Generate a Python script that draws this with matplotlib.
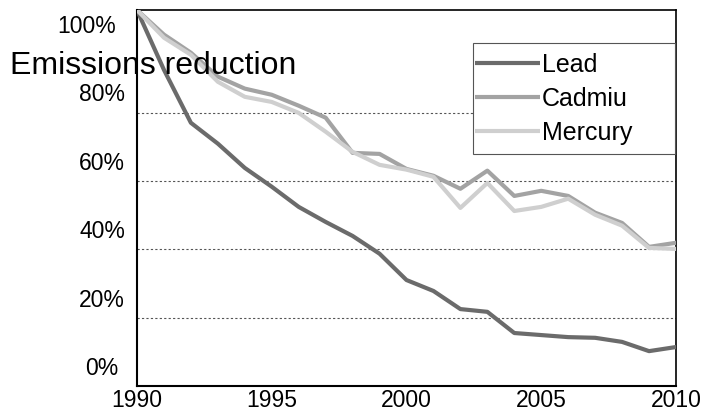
import numpy as np
import matplotlib.pyplot as plt
from matplotlib.patches import Rectangle
from matplotlib.transforms import blended_transform_factory, offset_copy

plt.rcParams['font.family'] = ['Liberation Sans', 'DejaVu Sans']

# Data (axis units, 100% tick = 100)
years = list(range(1990, 2011))
lead = [110, 92.5, 77.0, 70.9, 63.8, 58.3, 52.4, 48.0, 43.9, 38.7, 31.0,
        27.8, 22.5, 21.7, 15.5, 14.9, 14.3, 14.1, 12.9, 10.2, 11.4]
cadmiu = [110, 102.8, 97.5, 90.5, 87.0, 85.2, 82.0, 78.5, 68.2, 67.9, 63.5,
          61.5, 57.7, 63.0, 55.6, 57.1, 55.6, 50.7, 47.7, 40.7, 41.9]
mercury = [110, 101.9, 96.9, 89.0, 84.6, 83.1, 79.9, 74.4, 68.5, 64.7, 63.3,
           61.2, 52.1, 59.4, 51.2, 52.4, 54.8, 50.1, 46.9, 40.4, 40.1]

ytick_vals = [0, 20, 40, 60, 80, 100]
ytick_labels = ['0%', '20%', '40%', '60%', '80%', '100%']
xtick_vals = [1990, 1995, 2000, 2005, 2010]

W, H = 703, 412
fig = plt.figure(figsize=(W / 100, H / 100), dpi=100)
ax = fig.add_axes([137 / W, (H - 386) / H, (676 - 137) / W, (386 - 10) / H])

# gridlines
for v in ytick_vals[1:-1]:
    ax.axhline(v, color='#555555', lw=0.8, ls=(0, (2, 2)), zorder=1)

ax.plot(years, lead, color='#6b6b6b', lw=3, label='Lead', zorder=3)
ax.plot(years, cadmiu, color='#a3a3a3', lw=3, label='Cadmiu', zorder=3)
ax.plot(years, mercury, color='#cfcfcf', lw=3, label='Mercury', zorder=3)

ax.set_xlim(1990, 2010)
ax.set_ylim(0, 110)
ax.set_xticks(xtick_vals)
ax.set_xticklabels([str(x) for x in xtick_vals])
ax.tick_params(axis='x', length=0, pad=2, labelsize=16.5)
ax.set_yticks([])

for side in ['left', 'bottom']:
    ax.spines[side].set_linewidth(1.5)
for side in ['top', 'right']:
    ax.spines[side].set_linewidth(1.2)
for s in ax.spines.values():
    s.set_color('black')

# y labels sit above their tick positions
trans = blended_transform_factory(fig.transFigure, ax.transData)
for v, lab in zip(ytick_vals, ytick_labels):
    cx = 87 if lab == '100%' else 102
    t = offset_copy(trans, fig=fig, x=0, y=8, units='points')
    ax.text(cx / W, v, lab, transform=t, ha='center', va='baseline',
            fontsize=16.5, clip_on=False)

fig.text(10 / W, 1 - 74 / H, 'Emissions reduction', fontsize=23,
         ha='left', va='baseline', zorder=10)

# legend box: the line handles start right at the frame edge
box = Rectangle((473 / W, 1 - 154 / H), 202 / W, 111 / H,
                transform=fig.transFigure, facecolor='white',
                edgecolor='#555555', lw=0.8, zorder=4)
ax.add_artist(box)
box.set_clip_on(False)
leg = ax.legend(loc='upper left', bbox_to_anchor=(475 / W, 1 - 53 / H),
                bbox_transform=fig.transFigure, borderaxespad=0,
                borderpad=0, handlelength=2.6, handletextpad=0.08,
                labelspacing=0.4, fontsize=18, frameon=False)
leg.set_zorder(5)
for line in leg.get_lines():
    line.set_linewidth(3)
    line.set_solid_capstyle('butt')

fig.savefig('out.png', dpi=100)
